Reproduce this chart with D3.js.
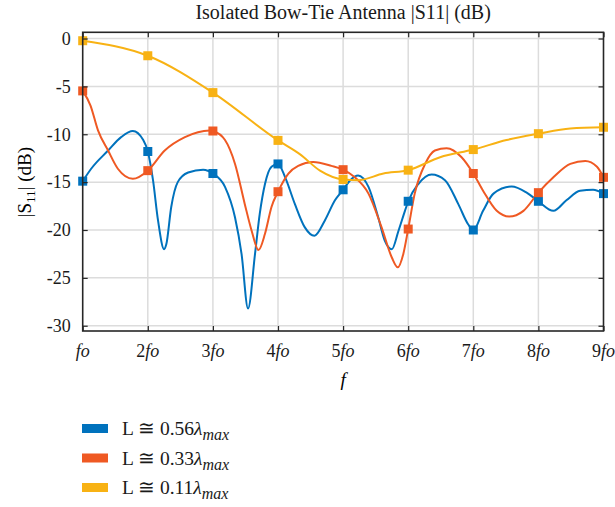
<!DOCTYPE html>
<html>
<head>
<meta charset="utf-8">
<script src="https://cdn.jsdelivr.net/npm/d3@7"></script>
<style>
  body { margin: 0; background: #fff; }
  svg, svg text { font-family: 'Liberation Serif', 'DejaVu Serif', serif; }
  .grid line { stroke: #dcdcdc; stroke-width: 1.5; }
  .axis text { font-size: 18px; fill: #1a1a1a; font-family: 'Liberation Serif', 'DejaVu Serif', serif; }
</style>
</head>
<body>
<svg id="chart" width="615" height="507"></svg>
<script>
// DATA (f in multiples of fo, |S11| in dB)
const xTicks = [1, 2, 3, 4, 5, 6, 7, 8, 9];
const xTickLabels = ['fo', '2fo', '3fo', '4fo', '5fo', '6fo', '7fo', '8fo', '9fo'];
const yTicks = [0, -5, -10, -15, -20, -25, -30];

const seriesNames = ['0.56', '0.33', '0.11'];
const seriesColors = ['#0072bd', '#ef5923', '#f8b214'];

const blueF = [1, 1.13, 1.39, 1.59, 1.77, 1.93, 2, 2.08, 2.157, 2.25, 2.284, 2.36, 2.46, 2.62, 2.85, 3,
  3.186, 3.34, 3.44, 3.54, 3.647, 3.72, 3.8, 3.9, 4, 4.11, 4.26, 4.41, 4.56, 4.72, 4.875, 5,
  5.11, 5.23, 5.39, 5.54, 5.64, 5.75, 5.85, 5.95, 6, 6.155, 6.36, 6.565, 6.77, 6.92, 7,
  7.15, 7.31, 7.59, 7.82, 8, 8.23, 8.43, 8.64, 8.84, 9];
const blueDb = [-14.9, -13.6, -11.7, -10.3, -9.66, -10.6, -11.8, -14.8, -19.0, -22.0, -21.5, -17.6, -15.0, -14.0, -13.7, -14.1,
  -15.5, -18.7, -22.5, -28.2, -22.5, -18.3, -15.2, -13.4, -13.1, -14.5, -17.3, -19.7, -20.6, -19.0, -16.9, -15.8,
  -14.8, -14.3, -15.5, -18.7, -21.1, -22.0, -20.1, -18.0, -17.0, -15.2, -14.2, -14.8, -17.3, -19.4, -20.0,
  -18.0, -16.2, -15.46, -16.1, -17.0, -18.0, -16.9, -15.9, -15.8, -16.2];

const orangeF = [1, 1.12, 1.235, 1.39, 1.54, 1.77, 2, 2.26, 2.57, 2.95, 3,
  3.186, 3.34, 3.49, 3.596, 3.7, 3.8, 3.9, 4, 4.16, 4.31, 4.54, 4.82, 5,
  5.18, 5.39, 5.59, 5.75, 5.84, 5.925, 6, 6.1, 6.26, 6.41, 6.59, 6.82, 7,
  7.15, 7.36, 7.55, 7.77, 8, 8.23, 8.49, 8.72, 8.9, 9];
const orangeDb = [-5.47, -7.0, -9.6, -11.7, -13.6, -14.65, -13.8, -11.7, -10.3, -9.6, -9.66,
  -10.6, -13.1, -17.3, -20.1, -22.1, -20.4, -17.6, -16.0, -14.1, -13.3, -12.9, -13.3, -13.7,
  -14.5, -16.2, -19.7, -22.9, -23.9, -22.5, -19.9, -16.2, -13.1, -11.7, -11.45, -12.4, -14.1,
  -15.9, -18.0, -18.6, -18.0, -16.1, -14.5, -13.1, -12.8, -13.4, -14.5];

const yellowF = [1, 2, 3, 4, 4.34, 4.645, 5, 5.23, 5.62, 6, 6.49, 7, 7.51, 8, 8.49, 9];
const yellowDb = [-0.23, -1.8, -5.65, -10.64, -12.1, -13.8, -14.72, -14.8, -14.1, -13.75, -12.4, -11.6, -10.6, -9.94, -9.4, -9.27];

const seriesF = [blueF, orangeF, yellowF];
const seriesDb = [blueDb, orangeDb, yellowDb];

// SETUP
const svg = d3.select('#chart');
const margin = { top: 32.3, right: 11.5, bottom: 176, left: 82.7 };
const width = 615 - margin.left - margin.right,
  height = 507 - margin.top - margin.bottom;

const x = d3.scaleLinear().domain([1, 9]).range([0, width]);
const y = d3.scaleLinear().domain([-30.55, 0.65]).range([height, 0]);

const g = svg.append('g')
  .attr('transform', 'translate(' + margin.left + ',' + margin.top + ')');

// GRID
g.append('g').attr('class', 'grid')
  .selectAll('line.v').data(xTicks.slice(1, -1)).enter().append('line')
  .attr('x1', d => x(d)).attr('x2', d => x(d)).attr('y1', 0).attr('y2', height);
g.append('g').attr('class', 'grid')
  .selectAll('line.h').data(yTicks).enter().append('line')
  .attr('x1', 0).attr('x2', width).attr('y1', d => y(d)).attr('y2', d => y(d));

// LINES
const line = d3.line()
  .x(d => x(d[0]))
  .y(d => y(d[1]))
  .curve(d3.curveMonotoneX);

seriesF.forEach((fs, i) => {
  const pts = fs.map((f, j) => [f, seriesDb[i][j]]);
  g.append('path')
    .datum(pts)
    .attr('fill', 'none')
    .attr('stroke', seriesColors[i])
    .attr('stroke-width', 2)
    .attr('d', line);
});

// MARKERS (only at integer multiples of fo)
seriesF.forEach((fs, i) => {
  const pts = fs.map((f, j) => [f, seriesDb[i][j]]).filter(d => Number.isInteger(d[0]));
  g.selectAll('.m' + i).data(pts).enter().append('rect')
    .attr('class', 'm' + i)
    .attr('x', d => x(d[0]) - 4.5)
    .attr('y', d => y(d[1]) - 4.5)
    .attr('width', 9)
    .attr('height', 9)
    .attr('fill', seriesColors[i]);
});

// AXES (matlab style box with inward ticks)
const tk = 5;
const axisCol = '#262626';
g.append('g').attr('class', 'axis axis--x')
  .attr('transform', 'translate(0,' + height + ')')
  .call(d3.axisBottom(x).tickValues(xTicks).tickSizeInner(-tk).tickSizeOuter(0).tickFormat(() => ''))
  .call(a => a.select('.domain').remove());
g.append('g').attr('class', 'axis')
  .call(d3.axisTop(x).tickValues(xTicks).tickSizeInner(-tk).tickSizeOuter(0).tickFormat(() => ''))
  .call(a => a.select('.domain').remove());
g.append('g').attr('class', 'axis axis--y')
  .call(d3.axisLeft(y).tickValues(yTicks).tickSizeInner(-tk).tickSizeOuter(0).tickPadding(12)
    .tickFormat(d => d === 0 ? '0' : '-' + Math.abs(d)))
  .call(a => a.select('.domain').remove());
g.append('g').attr('class', 'axis')
  .attr('transform', 'translate(' + width + ',0)')
  .call(d3.axisRight(y).tickValues(yTicks).tickSizeInner(-tk).tickSizeOuter(0).tickFormat(() => ''))
  .call(a => a.select('.domain').remove());
g.selectAll('.axis .tick line').attr('stroke', axisCol).attr('stroke-width', 1.2);

g.append('rect')
  .attr('width', width).attr('height', height)
  .attr('fill', 'none').attr('stroke', axisCol).attr('stroke-width', 1.6);

// X TICK LABELS (number upright, fo italic)
const xl = g.append('g').attr('class', 'axis');
xTicks.forEach((t, i) => {
  const lab = xTickLabels[i];
  const num = lab.replace('fo', '');
  const txt = xl.append('text')
    .attr('x', x(t)).attr('y', height + 26)
    .attr('text-anchor', 'middle');
  if (num) txt.append('tspan').text(num);
  txt.append('tspan').attr('font-style', 'italic').text('fo');
});

// AXIS LABELS
g.append('text')
  .attr('x', width / 2).attr('y', height + 55)
  .attr('text-anchor', 'middle')
  .attr('font-size', 19).attr('font-style', 'italic')
  .text('f');

const yl = svg.append('text')
  .attr('transform', 'translate(31,' + (margin.top + y(-15)) + ') rotate(-90)')
  .attr('text-anchor', 'middle')
  .attr('font-size', 19);
yl.append('tspan').text('|S');
yl.append('tspan').attr('font-size', 13).attr('dy', 4).text('11');
yl.append('tspan').attr('dy', -4).text('| (dB)');

// TITLE
svg.append('text')
  .attr('x', margin.left + width / 2).attr('y', 19)
  .attr('text-anchor', 'middle')
  .attr('font-size', 20)
  .attr('fill', '#1a1a1a')
  .text('Isolated Bow-Tie Antenna |S11| (dB)');

// LEGEND
const legend = svg.append('g').attr('transform', 'translate(82,428)');
seriesNames.forEach((n, i) => {
  const row = legend.append('g').attr('transform', 'translate(0,' + i * 29.5 + ')');
  row.append('rect')
    .attr('x', 0).attr('y', -4).attr('width', 26).attr('height', 9)
    .attr('fill', seriesColors[i]);
  const t = row.append('text')
    .attr('x', 40).attr('y', 7)
    .attr('font-size', 19.5).attr('fill', '#1a1a1a');
  t.append('tspan').text('L \u2245 ' + n);
  t.append('tspan').attr('font-style', 'italic').text('\u03bb');
  t.append('tspan').attr('font-style', 'italic').attr('font-size', 16).attr('dy', 5).text('max');
});
</script>
</body>
</html>
